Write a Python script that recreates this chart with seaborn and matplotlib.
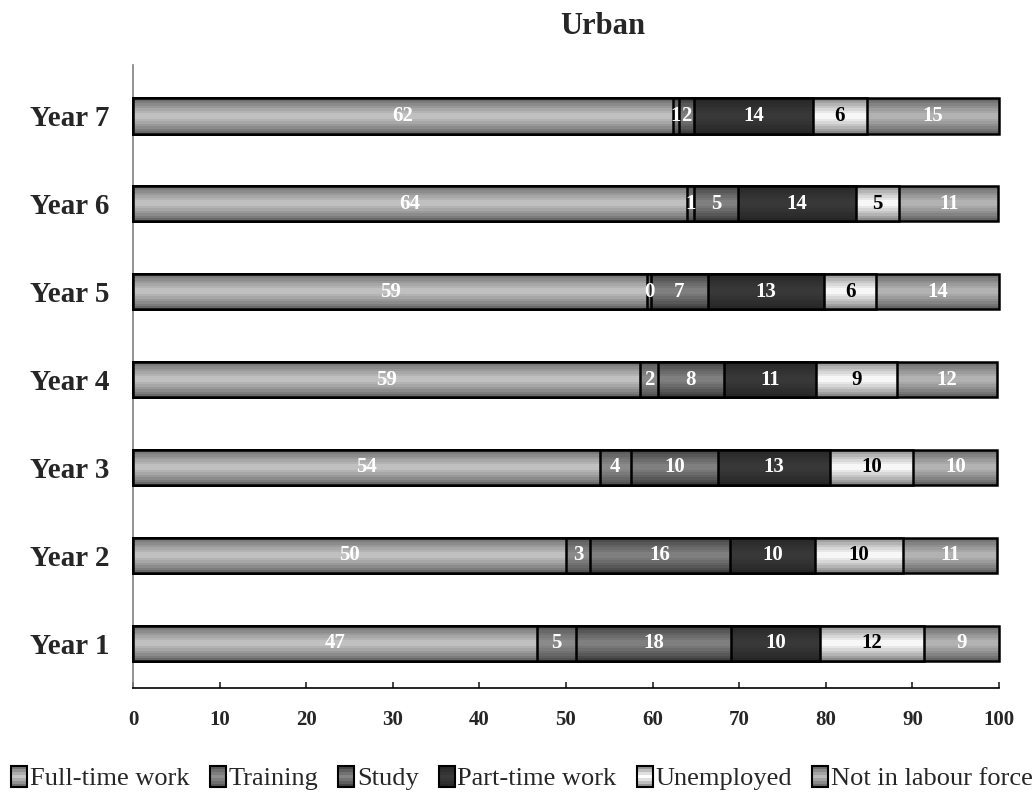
import numpy as np
import pandas as pd
import matplotlib
matplotlib.use("Agg")
import matplotlib.pyplot as plt
import seaborn as sns
from matplotlib.colors import to_rgb
from matplotlib.legend_handler import HandlerBase
from matplotlib.patches import Rectangle

# ---- data ----
years = ["Year 1", "Year 2", "Year 3", "Year 4", "Year 5", "Year 6", "Year 7"]
categories = ["Full-time work", "Training", "Study", "Part-time work",
              "Unemployed", "Not in labour force"]
full_time = [46.6, 50.0, 53.9, 58.6, 59.4, 64.0, 62.3]
training = [4.6, 2.8, 3.6, 2.0, 0.4, 0.8, 0.7]
study = [17.9, 16.1, 10.0, 7.6, 6.6, 5.1, 1.8]
part_time = [10.2, 9.9, 13.0, 10.7, 13.4, 13.6, 13.7]
unemployed = [12.0, 10.1, 9.6, 9.3, 6.0, 5.0, 6.2]
not_in_lf = [8.7, 10.9, 9.7, 11.6, 14.2, 11.4, 15.3]
series = [full_time, training, study, part_time, unemployed, not_in_lf]

# gradient styles (edge colour, centre colour) and label colours
grad_edge = ["#5e5e5e", "#4c4c4c", "#363636", "#242424", "#7a7a7a", "#5a5a5a"]
grad_center = ["#c6c6c6", "#8e8e8e", "#848484", "#3a3a3a", "#ffffff", "#b8b8b8"]
label_colors = ["white", "white", "white", "white", "black", "white"]

FONT = "Liberation Serif"
sns.set_style("white")
plt.rcParams["font.family"] = [FONT, "DejaVu Serif"]

rows = []
for cat, vals in zip(categories, series):
    for y, v in zip(years, vals):
        rows.append({"year": y, "category": cat, "value": v})
df = pd.DataFrame(rows)
df["category"] = pd.Categorical(df["category"], categories, ordered=True)
df = df.sort_values(["year", "category"])
df["cum"] = df.groupby("year")["value"].cumsum()
df["left"] = df["cum"] - df["value"]

order = years[::-1]  # Year 7 on top

fig = plt.figure(figsize=(10.36, 7.93), dpi=100)
ax = fig.add_axes([133 / 1036, 1 - 688 / 793, (999 - 133) / 1036, (688 - 65) / 793])


def gradient_array(edge, center, n=14):
    e = np.array(to_rgb(edge))
    c = np.array(to_rgb(center))
    t = (np.arange(n) + 0.5) / n
    d = 1 - np.abs(t - 0.5) * 2  # 0 at edges, 1 at centre
    d = d ** 0.8
    arr = e[None, :] * (1 - d[:, None]) + c[None, :] * d[:, None]
    return arr[:, None, :]


z = 1
for i in reversed(range(len(categories))):
    cat = categories[i]
    sub = df[df["category"] == cat]
    n_before = len(ax.patches)
    sns.barplot(data=sub, x="cum", y="year", order=order, orient="y",
                width=0.4, color=grad_center[i], edgecolor="black",
                linewidth=1.8, errorbar=None, ax=ax, zorder=z + 0.2)
    new_patches = ax.patches[n_before:]
    img = gradient_array(grad_edge[i], grad_center[i])
    for p in new_patches:
        x0, y0 = p.get_x(), p.get_y()
        w, h = p.get_width(), p.get_height()
        p.set_facecolor("none")
        p.set_clip_on(False)
        im = ax.imshow(img, extent=[x0, x0 + w, y0 + h, y0], aspect="auto",
                       interpolation="nearest", zorder=z)
        im.set_clip_path(p)
    z += 1

# data labels
ypos = {y: k for k, y in enumerate(order)}
for _, r in df.iterrows():
    i = categories.index(r["category"])
    ax.text(r["left"] + r["value"] / 2, ypos[r["year"]], f"{r['value']:.0f}",
            ha="center", va="center", fontsize=15, fontweight="bold",
            color=label_colors[i], zorder=20, family=FONT)

ax.set_xlim(0, 100)
ax.set_ylim(6.51, -0.58)
ax.set_xticks(np.arange(0, 101, 10))
ax.set_xlabel("")
ax.set_ylabel("")
for s in ["top", "right"]:
    ax.spines[s].set_visible(False)
ax.spines["left"].set_color("#808080")
ax.spines["left"].set_linewidth(1.2)
ax.spines["bottom"].set_color("black")
ax.spines["bottom"].set_linewidth(1.2)
ax.tick_params(axis="x", direction="in", length=4, width=1.2, pad=16,
               labelsize=15, bottom=True)
ax.tick_params(axis="y", length=0, pad=17, labelsize=21)
for lab in ax.get_xticklabels() + ax.get_yticklabels():
    lab.set_fontweight("bold")
    lab.set_family(FONT)

fig.text(603 / 1036, 1 - 27 / 793, "Urban", ha="center", va="center",
         fontsize=22, fontweight="bold", family=FONT)


class GradHandler(HandlerBase):
    def __init__(self, edge, center):
        super().__init__()
        self.edge = edge
        self.center = center

    def create_artists(self, legend, orig_handle, xdescent, ydescent,
                       width, height, fontsize, trans):
        arts = []
        arr = gradient_array(self.edge, self.center, n=7)[:, 0, :]
        n = len(arr)
        x0, y0 = -xdescent, -ydescent
        for k in range(n):
            r = Rectangle((x0, y0 + height * k / n), width, height / n,
                          facecolor=arr[k], edgecolor="none", transform=trans)
            arts.append(r)
        arts.append(Rectangle((x0, y0), width, height, facecolor="none",
                              edgecolor="black", linewidth=1.5, transform=trans))
        return arts


handles = [Rectangle((0, 0), 1, 1) for _ in categories]
hmap = {h: GradHandler(grad_edge[i], grad_center[i]) for i, h in enumerate(handles)}
fig.legend(handles, categories, handler_map=hmap, loc="center",
           bbox_to_anchor=(522 / 1036, 1 - 778 / 793), ncol=6, frameon=False,
           prop={"family": FONT, "size": 19}, handlelength=0.6,
           handleheight=0.85, handletextpad=0.1, columnspacing=0.77,
           borderaxespad=0, borderpad=0)

fig.savefig("out.png", dpi=100)
